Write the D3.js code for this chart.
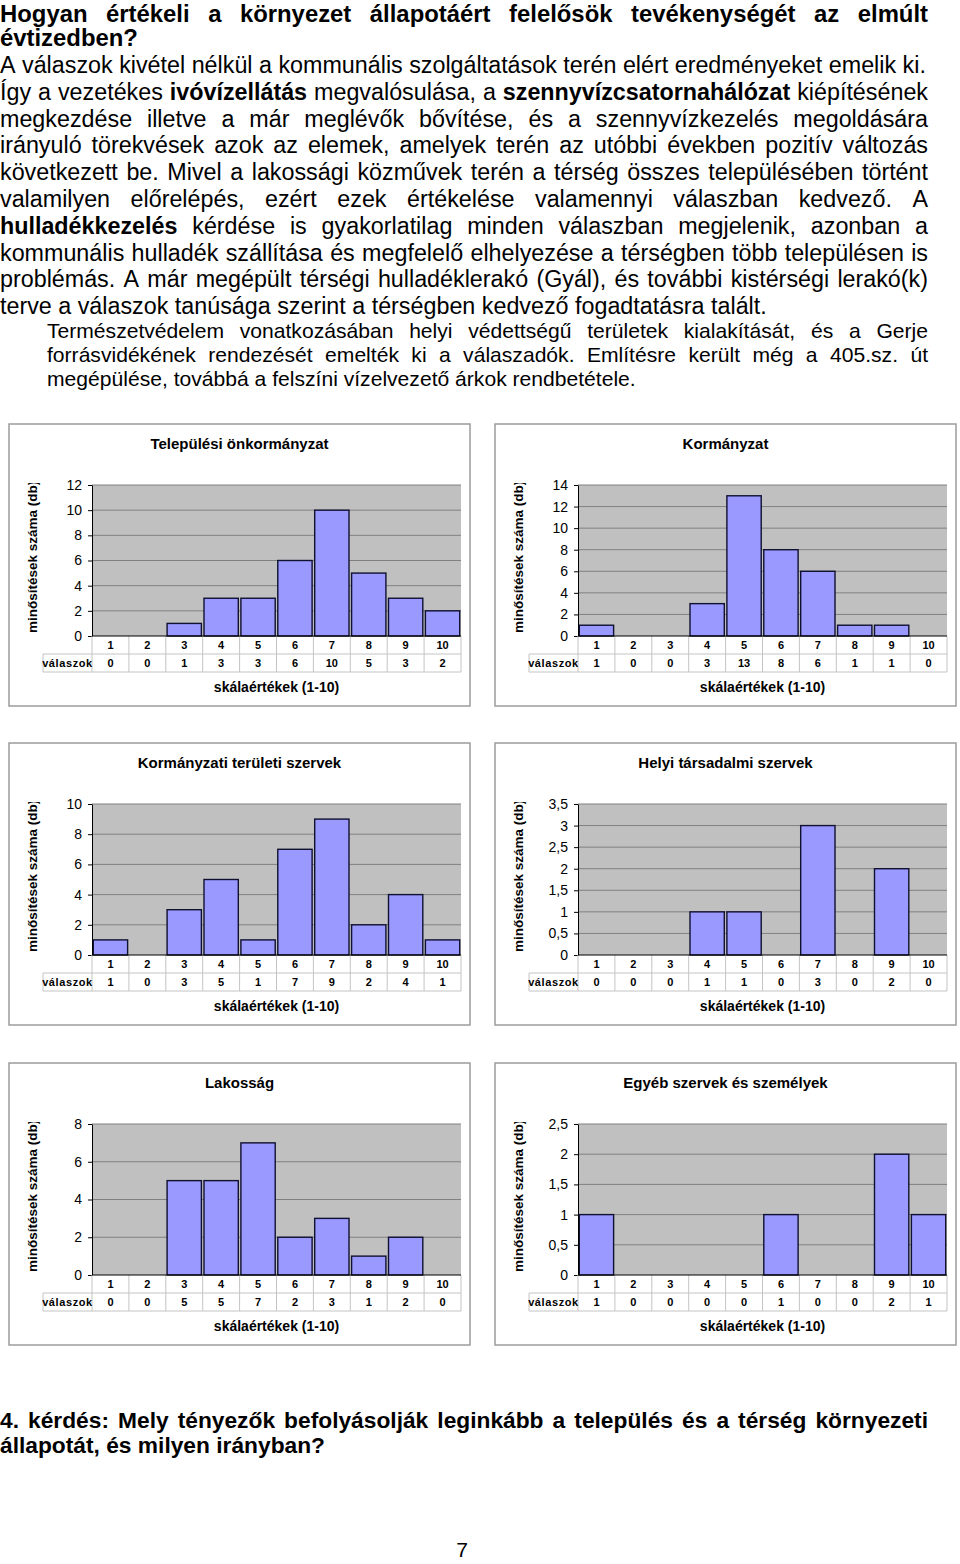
<!DOCTYPE html>
<html><head><meta charset="utf-8">
<script src="https://cdn.jsdelivr.net/npm/d3@7"></script>
<style>
body{margin:0;background:#fff}
svg{display:block;font-family:"Liberation Sans",Arial,sans-serif}
</style></head>
<body>
<svg id="c" width="960" height="1564"></svg>
<script>
// ---------------- DATA ----------------
const categories = ["1","2","3","4","5","6","7","8","9","10"];
const rowHeader = "válaszok";
const yAxisTitle = "minősítések száma (db)";
const xAxisTitle = "skálaértékek (1-10)";
const panelTitles = ["Települési önkormányzat","Kormányzat","Kormányzati területi szervek","Helyi társadalmi szervek","Lakosság","Egyéb szervek és személyek"];
const valuesTelepulesi = [0,0,1,3,3,6,10,5,3,2];
const valuesKormanyzat = [1,0,0,3,13,8,6,1,1,0];
const valuesTeruleti   = [1,0,3,5,1,7,9,2,4,1];
const valuesHelyi      = [0,0,0,1,1,0,3,0,2,0];
const valuesLakossag   = [0,0,5,5,7,2,3,1,2,0];
const valuesEgyeb      = [1,0,0,0,0,1,0,0,2,1];
const ticksTelepulesi = [0,2,4,6,8,10,12];
const ticksKormanyzat = [0,2,4,6,8,10,12,14];
const ticksTeruleti   = [0,2,4,6,8,10];
const ticksHelyi      = [0,0.5,1,1.5,2,2.5,3,3.5];
const ticksLakossag   = [0,2,4,6,8];
const ticksEgyeb      = [0,0.5,1,1.5,2,2.5];

const headingLines = [
  "Hogyan értékeli a környezet állapotáért felelősök tevékenységét az elmúlt",
  "évtizedben?"
];
const bodyLines = [
  "A válaszok kivétel nélkül a kommunális szolgáltatások terén elért eredményeket emelik ki.",
  "Így a vezetékes **ivóvízellátás** megvalósulása, a **szennyvízcsatornahálózat** kiépítésének",
  "megkezdése illetve a már meglévők bővítése, és a szennyvízkezelés megoldására",
  "irányuló törekvések azok az elemek, amelyek terén az utóbbi években pozitív változás",
  "következett be. Mivel a lakossági közművek terén a térség összes településében történt",
  "valamilyen előrelépés, ezért ezek értékelése valamennyi válaszban kedvező. A",
  "**hulladékkezelés** kérdése is gyakorlatilag minden válaszban megjelenik, azonban a",
  "kommunális hulladék szállítása és megfelelő elhelyezése a térségben több településen is",
  "problémás. A már megépült térségi hulladéklerakó (Gyál), és további kistérségi lerakó(k)",
  "terve a válaszok tanúsága szerint a térségben kedvező fogadtatásra talált."
];
const bodyJustify = [false,true,true,true,true,true,true,true,true,false];
const paraLines = [
  "Természetvédelem vonatkozásában helyi védettségű területek kialakítását, és a Gerje",
  "forrásvidékének rendezését emelték ki a válaszadók. Említésre került még a 405.sz. út",
  "megépülése, továbbá a felszíni vízelvezető árkok rendbetétele."
];
const paraJustify = [true,true,false];
const footerLines = [
  "4. kérdés: Mely tényezők befolyásolják leginkább a település és a térség környezeti",
  "állapotát, és milyen irányban?"
];
const pageNumber = "7";

// ---------------- TEXT ----------------
const svg = d3.select("#c");
const tg = svg.append("g");

function naturalWidth(str, size, weight){
  const t = tg.append("text").attr("font-size", size).attr("font-weight", weight);
  str.split(/(\*\*[^*]+\*\*)/).forEach(s=>{
    if(!s) return;
    const b = s.startsWith("**");
    t.append("tspan").attr("font-weight", b ? "bold" : weight).text(b ? s.slice(2,-2) : s);
  });
  const w = t.node().getComputedTextLength();
  t.remove();
  return w;
}
function spaceWidth(size, weight){
  return naturalWidth("a a", size, weight) - naturalWidth("aa", size, weight);
}
function drawLine(str, x0, y, size, weight, justify, right){
  const words = str.split(" ");
  const nodes = words.map(w=>{
    const b = w.startsWith("**");
    const txt = w.replace(/\*\*/g,"");
    const el = tg.append("text").attr("y", y).attr("font-size", size)
      .attr("font-weight", b ? "bold" : weight).attr("fill","#000").text(txt);
    return {el, w: el.node().getComputedTextLength()};
  });
  const total = d3.sum(nodes, d=>d.w);
  let gap = spaceWidth(size, weight);
  if(justify && nodes.length>1){
    const jg = (right - x0 - total)/(nodes.length-1);
    if(jg > 0) gap = jg;
  }
  let x = x0;
  nodes.forEach(n=>{ n.el.attr("x", x); x += n.w + gap; });
}

// font sizes fitted to the reference widths
const hSize = 21 * 138 / naturalWidth(headingLines[1], 21, "bold");
const bSize = 21 * 925 / naturalWidth(bodyLines[0], 21, "normal");
const pSize = 20 * 589 / naturalWidth(paraLines[2], 20, "normal");
const fSize = 21 * 325 / naturalWidth(footerLines[1], 21, "bold");

drawLine(headingLines[0], 0, 22, hSize, "bold", true, 928);
drawLine(headingLines[1], 0, 46, hSize, "bold", false, 928);
bodyLines.forEach((l,i)=> drawLine(l, 0, 73 + i*26.8, bSize, "normal", bodyJustify[i], 928));
paraLines.forEach((l,i)=> drawLine(l, 47, 338 + i*24, pSize, "normal", paraJustify[i], 928));
drawLine(footerLines[0], 0, 1428, fSize, "bold", true, 928);
drawLine(footerLines[1], 0, 1453, fSize, "bold", false, 928);
tg.append("text").attr("x", 462).attr("y", 1557).attr("font-size", 21)
  .attr("text-anchor","middle").text(pageNumber);

// ---------------- CHARTS ----------------
const fmt = d3.formatLocale({decimal:",", thousands:" ", grouping:[3], currency:["",""]}).format("~f");

const panels = [
  {title: panelTitles[0], values: valuesTelepulesi, ticks: ticksTelepulesi, px: 9,   py: 424},
  {title: panelTitles[1], values: valuesKormanyzat, ticks: ticksKormanyzat, px: 495, py: 424},
  {title: panelTitles[2], values: valuesTeruleti,   ticks: ticksTeruleti,   px: 9,   py: 743},
  {title: panelTitles[3], values: valuesHelyi,      ticks: ticksHelyi,      px: 495, py: 743},
  {title: panelTitles[4], values: valuesLakossag,   ticks: ticksLakossag,   px: 9,   py: 1063},
  {title: panelTitles[5], values: valuesEgyeb,      ticks: ticksEgyeb,      px: 495, py: 1063}
];

panels.forEach((p, idx)=>{
  const pw = 461, ph = 282;
  const g = svg.append("g");
  g.append("rect").attr("x", p.px).attr("y", p.py).attr("width", pw).attr("height", ph)
    .attr("fill","#fff").attr("stroke","#9c9c9c").attr("stroke-width",1.5);

  const L = p.px + 83, R = p.px + pw - 9, T = p.py + 61, B = p.py + 212;
  const x = d3.scaleBand().domain(categories).range([L, R]).paddingInner(0.07).paddingOuter(0.035);
  const xc = d3.scaleBand().domain(categories).range([L, R]);
  const y = d3.scaleLinear().domain([0, d3.max(p.ticks)]).range([B, T]);

  // title
  g.append("text").attr("x", p.px + pw/2).attr("y", p.py + 25).attr("text-anchor","middle")
    .attr("font-size", 15).attr("font-weight","bold").text(p.title);

  // plot area
  g.append("rect").attr("x", L).attr("y", T).attr("width", R-L).attr("height", B-T).attr("fill","#c0c0c0");
  g.selectAll(".grid").data(p.ticks.filter(t=>t>0)).join("line")
    .attr("x1", L).attr("x2", R).attr("y1", d=>y(d)).attr("y2", d=>y(d))
    .attr("stroke","#808080").attr("stroke-width",1);

  // bars
  g.selectAll(".bar").data(p.values.map((v,i)=>({c: categories[i], v}))).join("rect")
    .filter(d=>d.v>0)
    .attr("x", d=>x(d.c)).attr("width", x.bandwidth())
    .attr("y", d=>y(d.v)).attr("height", d=>B - y(d.v))
    .attr("fill","#9999ff").attr("stroke","#101030").attr("stroke-width",1.4);

  // y axis
  const ax = g.append("g").attr("transform", `translate(${L},0)`)
    .call(d3.axisLeft(y).tickValues(p.ticks).tickFormat(fmt).tickSize(4).tickSizeOuter(0).tickPadding(6));
  ax.select(".domain").attr("stroke","#000");
  ax.selectAll(".tick line").attr("stroke","#000");
  ax.selectAll(".tick text").attr("font-size",14).attr("font-family","Liberation Sans, Arial, sans-serif").attr("fill","#000");

  // data table
  const tl = "#c4c4c4";
  const hx = p.px + 34;
  g.append("line").attr("x1", hx).attr("x2", R).attr("y1", B+18).attr("y2", B+18).attr("stroke", tl);
  g.append("line").attr("x1", hx).attr("x2", R).attr("y1", B+36).attr("y2", B+36).attr("stroke", tl);
  g.append("line").attr("x1", hx).attr("x2", hx).attr("y1", B+18).attr("y2", B+36).attr("stroke", tl);
  const bounds = categories.map(c=>xc(c)).concat([R]);
  g.selectAll(".vd").data(bounds).join("line")
    .attr("x1", d=>d).attr("x2", d=>d).attr("y1", B).attr("y2", B+36).attr("stroke", tl);
  // baseline axis
  g.append("line").attr("x1", L).attr("x2", R).attr("y1", B).attr("y2", B).attr("stroke","#000").attr("stroke-width",1.2);

  g.selectAll(".cat").data(categories).join("text")
    .attr("x", d=>xc(d) + xc.bandwidth()/2).attr("y", B + 13).attr("text-anchor","middle")
    .attr("font-size", 11).attr("font-weight","bold").text(d=>d);
  g.selectAll(".val").data(p.values).join("text")
    .attr("x", (d,i)=>xc(categories[i]) + xc.bandwidth()/2).attr("y", B + 31).attr("text-anchor","middle")
    .attr("font-size", 11).attr("font-weight","bold").text(d=>d);
  g.append("text").attr("x", (hx + L)/2).attr("y", B + 31).attr("text-anchor","middle")
    .attr("font-size", 11).attr("font-weight","bold").attr("letter-spacing", 0.6).text(rowHeader);

  // x axis title
  g.append("text").attr("x", (L+R)/2).attr("y", p.py + 268).attr("text-anchor","middle")
    .attr("font-size", 14).attr("font-weight","bold").text(xAxisTitle);

  // y axis title (clipped at top like the reference)
  const cid = "clip" + idx;
  svg.append("clipPath").attr("id", cid).append("rect")
    .attr("x", p.px).attr("y", p.py + 59).attr("width", 80).attr("height", 160);
  g.append("g").attr("clip-path", `url(#${cid})`).append("text")
    .attr("transform", `translate(${p.px + 28},${B - 3}) rotate(-90)`)
    .attr("font-size", 13.5).attr("font-weight","bold").text(yAxisTitle);
});
</script>
</body></html>
